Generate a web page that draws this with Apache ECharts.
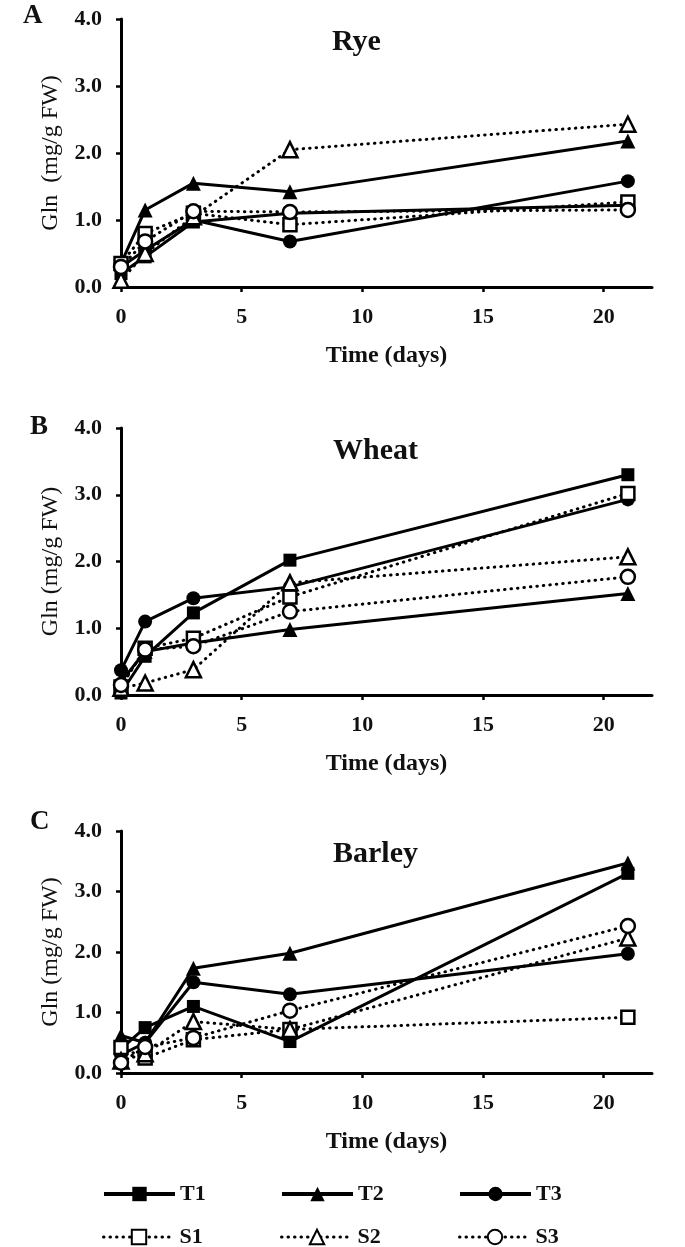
<!DOCTYPE html>
<html><head><meta charset="utf-8">
<script src="https://cdn.jsdelivr.net/npm/echarts@6/dist/echarts.min.js"></script>
<style>html,body{margin:0;padding:0;background:#fff}#c{width:685px;height:1247px}</style>
</head><body><div id="c"></div>
<script>
const days = [0, 1, 3, 7, 21];
const xTicks = [0, 5, 10, 15, 20];
const yTicks = [0, 1, 2, 3, 4];
const panels = ['Rye', 'Wheat', 'Barley'];
const letters = ['A', 'B', 'C'];
const yNames = ['Gln  (mg/g FW)', 'Gln (mg/g FW)', 'Gln (mg/g FW)'];
const seriesNames = ['T1', 'T2', 'T3', 'S1', 'S2', 'S3'];

const ryeT1 = [0.2, 0.45, 0.97, 1.1, 1.22];
const ryeT2 = [0.35, 1.15, 1.55, 1.42, 2.18];
const ryeT3 = [0.3, 0.55, 1.0, 0.68, 1.58];
const ryeS1 = [0.35, 0.8, 1.1, 0.93, 1.27];
const ryeS2 = [0.1, 0.5, 1.05, 2.05, 2.43];
const ryeS3 = [0.3, 0.68, 1.13, 1.12, 1.15];

const wheatT1 = [0.03, 0.58, 1.23, 2.02, 3.3];
const wheatT2 = [0.2, 0.65, 0.78, 0.98, 1.52];
const wheatT3 = [0.37, 1.1, 1.45, 1.62, 2.93];
const wheatS1 = [0.12, 0.7, 0.85, 1.47, 3.02];
const wheatS2 = [0.1, 0.18, 0.38, 1.68, 2.07];
const wheatS3 = [0.15, 0.68, 0.73, 1.25, 1.77];

const barleyT1 = [0.4, 0.75, 1.1, 0.52, 3.3];
const barleyT2 = [0.62, 0.5, 1.73, 1.98, 3.47];
const barleyT3 = [0.3, 0.5, 1.5, 1.3, 1.97];
const barleyS1 = [0.42, 0.25, 0.55, 0.72, 0.92];
const barleyS2 = [0.2, 0.32, 0.85, 0.72, 2.23];
const barleyS3 = [0.17, 0.43, 0.58, 1.03, 2.43];

const panelData = [
  [ryeT1, ryeT2, ryeT3, ryeS1, ryeS2, ryeS3],
  [wheatT1, wheatT2, wheatT3, wheatS1, wheatS2, wheatS3],
  [barleyT1, barleyT2, barleyT3, barleyS1, barleyS2, barleyS3]
];

const FONT = '"Liberation Serif", "DejaVu Serif", serif';
const symbols = ['rect', 'triangle', 'circle', 'rect', 'triangle', 'circle'];
const symSizes = [13, 15, 14, 13, 15, 14];

const grids = [
  {left: 121, top: 19, width: 531, height: 268},
  {left: 121, top: 428, width: 531, height: 267},
  {left: 121, top: 831, width: 531, height: 242}
];
const letterTops = [3, 414, 809];
const titleLefts = [332, 333, 333];

const xAxes = [], yAxes = [], series = [], titles = [];
grids.forEach((g, i) => {
  xAxes.push({
    gridIndex: i, type: 'value', min: 0, max: 22,
    name: 'Time (days)', nameLocation: 'middle', nameGap: 57,
    nameTextStyle: {fontFamily: FONT, fontWeight: 'bold', fontSize: 24, color: '#111'},
    axisLine: {show: true, lineStyle: {color: '#000', width: 3}},
    axisTick: {show: true, customValues: xTicks, length: 5, lineStyle: {color: '#000', width: 2.5}},
    axisLabel: {customValues: xTicks, fontFamily: FONT, fontWeight: 'bold', fontSize: 22, color: '#111', margin: 19},
    splitLine: {show: false}
  });
  yAxes.push({
    gridIndex: i, type: 'value', min: 0, max: 4, interval: 1,
    name: yNames[i], nameLocation: 'middle', nameGap: 58, nameRotate: 90,
    nameTextStyle: {fontFamily: FONT, fontSize: 24, color: '#111'},
    axisLine: {show: true, lineStyle: {color: '#000', width: 3}},
    axisTick: {show: true, length: 5, lineStyle: {color: '#000', width: 2.5}},
    axisLabel: {formatter: v => v.toFixed(1), fontFamily: FONT, fontWeight: 'bold', fontSize: 22, color: '#111', margin: 19},
    splitLine: {show: false}
  });
  titles.push({text: panels[i], left: titleLefts[i], top: g.top + 8, padding: 0,
    textStyle: {fontFamily: FONT, fontWeight: 'bold', fontSize: 30, color: '#111'}});
  titles.push({text: letters[i], left: i === 0 ? 23 : 30, top: letterTops[i], padding: 0,
    textStyle: {fontFamily: FONT, fontWeight: 'bold', fontSize: 27, color: '#111'}});
  panelData[i].forEach((vals, k) => {
    const open = k >= 3;
    series.push({
      name: seriesNames[k], type: 'line', xAxisIndex: i, yAxisIndex: i,
      data: days.map((d, j) => [d, vals[j]]),
      symbol: symbols[k], symbolSize: symSizes[k],
      showAllSymbol: true,
      itemStyle: open ? {color: '#fff', borderColor: '#000', borderWidth: 2.5}
                      : {color: '#000', borderColor: '#000', borderWidth: 0},
      lineStyle: open ? {color: '#000', width: 3, type: [0.5, 6], cap: 'round'}
                      : {color: '#000', width: 3, type: 'solid'},
      z: open ? 3 : 2,
      animation: false
    });
  });
});

const legendPos = [
  {name: 'T1', left: 102, top: 1183}, {name: 'T2', left: 280, top: 1183}, {name: 'T3', left: 458, top: 1183},
  {name: 'S1', left: 102, top: 1226}, {name: 'S2', left: 280, top: 1226}, {name: 'S3', left: 458, top: 1226}
];
const legends = legendPos.map(p => ({
  data: [p.name], left: p.left, top: p.top, padding: 0, orient: 'horizontal',
  itemWidth: 71, itemHeight: 18, itemGap: 0, selectedMode: false,
  lineStyle: {width: p.name[0] === 'T' ? 4 : 3},
  textStyle: {fontFamily: FONT, fontWeight: 'bold', fontSize: 22, color: '#111'}
}));

const chart = echarts.init(document.getElementById('c'), null, {renderer: 'canvas'});
chart.setOption({
  backgroundColor: '#fff',
  animation: false,
  title: titles,
  legend: legends,
  grid: grids,
  xAxis: xAxes,
  yAxis: yAxes,
  series: series
});
</script></body></html>
